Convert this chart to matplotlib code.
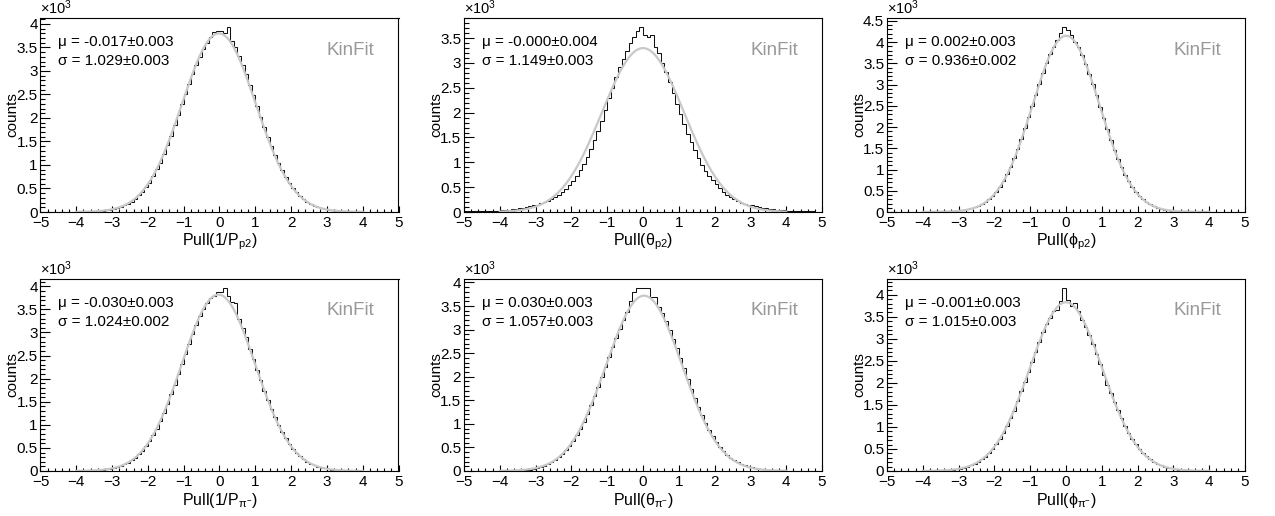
import numpy as np
import matplotlib
matplotlib.use("Agg")
import matplotlib.pyplot as plt
from matplotlib.ticker import MultipleLocator, FuncFormatter

# ---------------- data ----------------
bin_lo, bin_hi, n_bins = -5.0, 5.0, 100

counts_inv_p_p2 = [
    0, 0, 0, 1, 0, 1, 1, 1, 2, 2,
    3, 4, 6, 8, 11, 15, 20, 27, 36, 48,
    64, 85, 104, 142, 180, 220, 285, 352, 425, 530,
    620, 760, 905, 1045, 1230, 1420, 1625, 1840, 2060, 2290,
    2500, 2720, 2940, 3130, 3300, 3460, 3600, 3720, 3830, 3840,
    3840, 3800, 3930, 3630, 3520, 3320, 3120, 2930, 2700, 2480,
    2250, 2030, 1810, 1600, 1400, 1215, 1045, 890, 750, 625,
    515, 425, 345, 278, 222, 175, 136, 106, 80, 61,
    46, 34, 25, 18, 13, 9, 7, 5, 3, 2,
    1, 1, 1, 0, 1, 0, 0, 0, 0, 0]

counts_theta_p2 = [
    12, 14, 15, 16, 18, 20, 22, 24, 27, 30,
    34, 40, 46, 54, 62, 72, 84, 98, 114, 132,
    150, 172, 198, 228, 262, 300, 345, 400, 465, 545,
    630, 730, 845, 975, 1115, 1270, 1440, 1630, 1840, 2060,
    2290, 2500, 2720, 2920, 3090, 3250, 3400, 3530, 3650, 3720,
    3560, 3520, 3560, 3330, 3200, 3000, 2820, 2620, 2400, 2180,
    1970, 1770, 1580, 1410, 1240, 1090, 950, 820, 720, 640,
    560, 480, 410, 350, 300, 255, 215, 185, 160, 150,
    140, 120, 105, 90, 78, 66, 56, 48, 40, 34,
    28, 24, 21, 18, 16, 14, 12, 11, 10, 9]

counts_phi_p2 = [
    0, 1, 1, 1, 2, 2, 3, 3, 4, 4,
    5, 6, 7, 9, 11, 13, 16, 20, 25, 32,
    40, 52, 66, 84, 108, 140, 180, 232, 300, 380,
    480, 595, 730, 885, 1060, 1260, 1480, 1720, 1970, 2230,
    2500, 2760, 3020, 3270, 3500, 3710, 3880, 4040, 4220, 4350,
    4280, 4170, 4010, 3880, 3700, 3490, 3260, 3010, 2750, 2480,
    2210, 1950, 1700, 1465, 1250, 1055, 880, 725, 590, 475,
    380, 300, 234, 180, 138, 104, 78, 58, 43, 32,
    24, 18, 14, 11, 8, 6, 5, 4, 3, 2,
    2, 1, 1, 1, 1, 0, 1, 0, 0, 0]

counts_inv_p_pi = [
    0, 0, 1, 0, 1, 1, 1, 2, 2, 3,
    3, 5, 6, 8, 11, 15, 20, 28, 37, 50,
    68, 88, 110, 142, 180, 230, 290, 360, 440, 540,
    650, 780, 920, 1085, 1260, 1450, 1660, 1870, 2090, 2310,
    2530, 2760, 2970, 3170, 3350, 3500, 3630, 3740, 3800, 3880,
    3880, 3960, 3800, 3660, 3640, 3300, 3100, 2900, 2650, 2420,
    2180, 1960, 1740, 1540, 1340, 1160, 990, 840, 705, 590,
    485, 395, 320, 256, 203, 160, 124, 96, 73, 55,
    41, 31, 23, 17, 12, 9, 6, 4, 3, 2,
    1, 1, 1, 0, 0, 0, 0, 0, 0, 0]

counts_theta_pi = [
    1, 1, 1, 2, 1, 2, 2, 3, 3, 4,
    4, 5, 7, 9, 11, 14, 18, 24, 31, 42,
    68, 88, 112, 145, 185, 232, 290, 360, 440, 535,
    640, 760, 900, 1050, 1215, 1395, 1590, 1790, 2000, 2210,
    2420, 2630, 2830, 3020, 3200, 3380, 3600, 3800, 3880, 3880,
    3880, 3880, 3700, 3700, 3490, 3350, 3180, 3000, 2800, 2600,
    2390, 2180, 1960, 1750, 1550, 1360, 1180, 1020, 870, 740,
    620, 515, 425, 350, 285, 230, 185, 150, 120, 95,
    75, 60, 48, 38, 30, 24, 22, 20, 16, 12,
    9, 7, 5, 4, 3, 2, 2, 1, 1, 1]

counts_phi_pi = [
    1, 1, 1, 2, 2, 2, 3, 3, 3, 4,
    4, 5, 6, 8, 10, 13, 17, 23, 31, 42,
    56, 74, 97, 127, 164, 209, 264, 329, 408, 499,
    610, 735, 870, 1015, 1200, 1370, 1590, 1810, 2010, 2250,
    2480, 2700, 2930, 3150, 3340, 3480, 3620, 3650, 3860, 4150,
    3880, 3740, 3810, 3620, 3430, 3260, 3090, 2880, 2660, 2420,
    2180, 1960, 1760, 1560, 1380, 1200, 1030, 870, 730, 610,
    500, 410, 330, 266, 210, 165, 128, 98, 75, 57,
    43, 32, 24, 18, 13, 10, 7, 5, 4, 3,
    2, 2, 1, 1, 1, 1, 0, 1, 0, 0]

fit_mu = [-0.017, -0.000, 0.002, -0.030, 0.030, -0.001]
fit_mu_err = [0.003, 0.004, 0.003, 0.003, 0.003, 0.003]
fit_sigma = [1.029, 1.149, 0.936, 1.024, 1.057, 1.015]
fit_sigma_err = [0.003, 0.003, 0.002, 0.002, 0.003, 0.003]
fit_amp = [3800, 3300, 4150, 3820, 3720, 3830]

x_titles = [
    r"Pull(1/P$_{\mathrm{p2}}$)",
    r"Pull(θ$_{\mathrm{p2}}$)",
    r"Pull(ϕ$_{\mathrm{p2}}$)",
    r"Pull(1/P$_{\mathrm{π}^{-}}$)",
    r"Pull(θ$_{\mathrm{π}^{-}}$)",
    r"Pull(ϕ$_{\mathrm{π}^{-}}$)",
]
y_title = "counts"
tag_text = "KinFit"

all_counts = [counts_inv_p_p2, counts_theta_p2, counts_phi_p2,
              counts_inv_p_pi, counts_theta_pi, counts_phi_pi]

# ---------------- style ----------------
plt.rcParams["font.family"] = ["Liberation Sans", "DejaVu Sans"]
plt.rcParams["mathtext.fontset"] = "custom"
plt.rcParams["mathtext.rm"] = "Liberation Sans"
plt.rcParams["mathtext.it"] = "Liberation Sans:italic"
plt.rcParams["mathtext.sf"] = "Liberation Sans"
plt.rcParams["axes.unicode_minus"] = True

W, H = 1275, 516
fig = plt.figure(figsize=(W / 100, H / 100), dpi=100)
fig.patch.set_facecolor("white")

col_left = [40.5, 464, 887]
ax_w = 358
row_top = [18, 279]
row_bot = [212, 471]

edges = np.linspace(bin_lo, bin_hi, n_bins + 1)

for i in range(6):
    r, c = divmod(i, 3)
    left = col_left[c] / W
    bottom = (H - row_bot[r]) / H
    height = (row_bot[r] - row_top[r]) / H
    ax = fig.add_axes([left, bottom, ax_w / W, height])

    vals = np.array(all_counts[i], dtype=float) / 1000.0
    ax.stairs(vals, edges, color="#111111", lw=0.75, zorder=2)

    xs = np.linspace(-4.0, 4.0, 500)
    ys = fit_amp[i] / 1000.0 * np.exp(-0.5 * ((xs - fit_mu[i]) / fit_sigma[i]) ** 2)
    ax.plot(xs, ys, color="#c8c8c8", lw=1.6, zorder=3)

    ax.set_xlim(bin_lo, bin_hi)
    ax.set_ylim(0, 1.05 * vals.max())

    ax.xaxis.set_major_locator(MultipleLocator(1))
    ax.xaxis.set_minor_locator(MultipleLocator(0.2))
    ax.yaxis.set_major_locator(MultipleLocator(0.5))
    ax.yaxis.set_minor_locator(MultipleLocator(0.1))
    ax.yaxis.set_major_formatter(FuncFormatter(lambda v, p: f"{v:g}"))
    ax.xaxis.set_major_formatter(FuncFormatter(lambda v, p: f"{v:g}".replace("-", "\u2212")))

    ax.tick_params(axis="both", which="both", direction="in", top=False, right=False,
                   labelsize=11, width=0.8, color="black")
    ax.tick_params(axis="x", which="major", length=4.5, pad=3)
    ax.tick_params(axis="x", which="minor", length=2.3)
    ax.tick_params(axis="y", which="major", length=7.5, pad=2)
    ax.tick_params(axis="y", which="minor", length=3.8)

    for sp in ax.spines.values():
        sp.set_linewidth(0.8)
        sp.set_color("black")
        sp.set_zorder(4)

    ax.set_xlabel(x_titles[i], fontsize=11.5, labelpad=1)
    ax.set_ylabel(y_title, fontsize=11, labelpad=0)
    ax.yaxis.set_label_coords(-0.058, 0.5)

    ax.text(0.0, 1.005, r"×10$^{3}$", transform=ax.transAxes, ha="left", va="bottom",
            fontsize=10.5)

    ax.text(0.05, 0.876, f"μ = {fit_mu[i]:.3f}±{fit_mu_err[i]:.3f}",
            transform=ax.transAxes, ha="left", va="center", fontsize=11)
    ax.text(0.05, 0.778, f"σ = {fit_sigma[i]:.3f}±{fit_sigma_err[i]:.3f}",
            transform=ax.transAxes, ha="left", va="center", fontsize=11)
    ax.text(0.80, 0.835, tag_text, transform=ax.transAxes, ha="left", va="center",
            fontsize=13.5, color="#999999")

fig.savefig("out.png", dpi=100, facecolor="white")
